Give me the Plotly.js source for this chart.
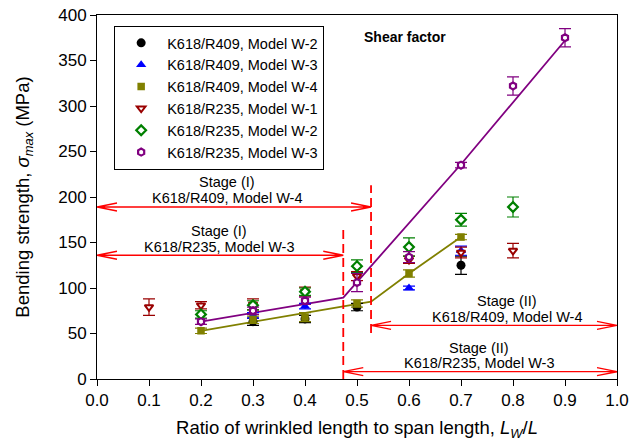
<!DOCTYPE html>
<html><head><meta charset="utf-8">
<script src="https://cdn.plot.ly/plotly-3.0.1.min.js"></script>
<style>html,body{margin:0;padding:0;background:#fff}#chart{width:643px;height:446px}</style>
</head><body><div id="chart"></div>
<script>
// ---- data ----
const seriesNames = ["K618/R409, Model W-2","K618/R409, Model W-3","K618/R409, Model W-4",
                     "K618/R235, Model W-1","K618/R235, Model W-2","K618/R235, Model W-3"];

const xR409W2 = [0.3, 0.4, 0.5, 0.7];
const yR409W2 = [63, 66, 79, 125];
const eR409W2 = [4, 4, 4, 10];

const xR409W3 = [0.3, 0.4, 0.6, 0.7];
const yR409W3 = [70, 80, 100, 141];
const eR409W3 = [3, 3, 2, 5];

const xR409W4 = [0.2, 0.3, 0.4, 0.5, 0.6, 0.7];
const yR409W4 = [53, 65, 68, 83, 116, 156];
const eR409W4 = [3, 4, 5, 4, 4, 3];

const xR235W1 = [0.1, 0.2, 0.3, 0.4, 0.5, 0.6, 0.7, 0.8];
const yR235W1 = [79, 81, 82, 96, 113, 131, 139, 141];
const eR235W1 = [9, 4, 6, 5, 5, 4, 6, 8];

const xR235W2 = [0.2, 0.3, 0.4, 0.5, 0.6, 0.7, 0.8];
const yR235W2 = [71, 81, 96, 124, 145, 175, 189];
const eR235W2 = [4, 5, 4, 7, 10, 7, 11];

const xR235W3 = [0.2, 0.3, 0.4, 0.5, 0.6, 0.7, 0.8, 0.9];
const yR235W3 = [63, 75, 86, 106, 134, 235, 322, 375];
const eR235W3 = [3, 4, 4, 10, 6, 3, 10, 10];

// fitted trend lines (vertices)
const fitR409X = [0.2, 0.527, 0.6, 0.7];
const fitR409Y = [53, 85, 116, 156];
const fitR235X = [0.2, 0.4736, 0.7, 0.9];
const fitR235Y = [63, 89.5, 236, 372];

// stage boundaries (dashed) and stage arrows
const dashX  = [0.4736, 0.527];
const dashY0 = [0, 50.5];
const dashY1 = [164, 213];

const arrowX0 = [0, 0, 0.527, 0.4736];
const arrowX1 = [0.527, 0.4736, 1.0, 1.0];
const arrowY  = [189, 136, 59, 8];

const labelLine1 = ["Stage (I)", "Stage (I)", "Stage (II)", "Stage (II)"];
const labelLine2 = ["K618/R409, Model W-4", "K618/R235, Model W-3", "K618/R409, Model W-4", "K618/R235, Model W-3"];
const labelX  = [0.25, 0.234, 0.789, 0.734];
const labelY1 = [216.5, 162.6, 85.3, 34.2];
const labelY2 = [199, 145, 68.2, 17.2];

const xTickVals = [0,0.1,0.2,0.3,0.4,0.5,0.6,0.7,0.8,0.9,1.0];
const yTickVals = [0,50,100,150,200,250,300,350,400];

// ---- styling ----
const FONT = "Liberation Sans, Arial, Helvetica, sans-serif";
const red = "#ff0000";
function errbar(arr, color){
  return {type:"data", array:arr, visible:true, color:color, thickness:1.2, width:6};
}
const traces = [
  {x:fitR409X, y:fitR409Y, mode:"lines", line:{color:"#808000", width:1.8}, showlegend:false, hoverinfo:"skip"},
  {x:fitR235X, y:fitR235Y, mode:"lines", line:{color:"#800080", width:1.8}, showlegend:false, hoverinfo:"skip"},
  {x:xR409W2, y:yR409W2, name:seriesNames[0], mode:"markers", error_y:errbar(eR409W2,"#000"),
   marker:{symbol:"circle", size:9, color:"#000"}},
  {x:xR409W3, y:yR409W3, name:seriesNames[1], mode:"markers", error_y:errbar(eR409W3,"#0000ff"),
   marker:{symbol:"triangle-up", size:9, color:"#0000ff"}},
  {x:xR409W4, y:yR409W4, name:seriesNames[2], mode:"markers", error_y:errbar(eR409W4,"#808000"),
   marker:{symbol:"square", size:7.5, color:"#808000"}},
  {x:xR235W1, y:yR235W1, name:seriesNames[3], mode:"markers", error_y:errbar(eR235W1,"#990000"),
   marker:{symbol:"triangle-down", size:7.5, color:"#fff", line:{color:"#990000", width:2}}},
  {x:xR235W2, y:yR235W2, name:seriesNames[4], mode:"markers", error_y:errbar(eR235W2,"#008000"),
   marker:{symbol:"diamond", size:7.5, color:"#fff", line:{color:"#008000", width:2.2}}},
  {x:xR235W3, y:yR235W3, name:seriesNames[5], mode:"markers", error_y:errbar(eR235W3,"#800080"),
   marker:{symbol:"hexagon", size:7, color:"#fff", line:{color:"#800080", width:2.2}}}
];

// arrowhead size in pixels converted to data units (plot area 520 x 364 px)
const pxX = 1.0/520, pxY = 400/364;
const headL = 20*pxX, headW = 4*pxY;
const shapes = [];
for (let i=0;i<dashX.length;i++){
  shapes.push({type:"line", xref:"x", yref:"y", x0:dashX[i], x1:dashX[i], y0:dashY0[i], y1:dashY1[i],
               line:{color:red, width:1.8, dash:"9px,5px"}});
}
for (let i=0;i<arrowY.length;i++){
  const a=arrowX0[i], b=arrowX1[i], y=arrowY[i];
  const p = `M${a},${y}L${b},${y}` +
            `M${a+headL},${y+headW}L${a},${y}L${a+headL},${y-headW}` +
            `M${b-headL},${y+headW}L${b},${y}L${b-headL},${y-headW}`;
  shapes.push({type:"path", xref:"x", yref:"y", path:p, line:{color:red, width:1.3}});
}

const annFont = {family:FONT, size:14.5, color:"#000"};
const annotations = [];
for (let i=0;i<labelX.length;i++){
  annotations.push({x:labelX[i], y:labelY1[i], xref:"x", yref:"y", text:labelLine1[i], showarrow:false, font:annFont});
  annotations.push({x:labelX[i], y:labelY2[i], xref:"x", yref:"y", text:labelLine2[i], showarrow:false, font:annFont});
}
annotations.push({x:0.592, y:376, xref:"x", yref:"y", text:"<b>Shear factor</b>", showarrow:false,
                  font:{family:FONT, size:14, color:"#000"}});

const layout = {
  width:643, height:446,
  margin:{l:97, r:26, t:15, b:67, pad:0},
  paper_bgcolor:"#fff", plot_bgcolor:"#fff",
  font:{family:FONT, color:"#000"},
  showlegend:true,
  legend:{x:0.033, y:0.97, xanchor:"left", yanchor:"top", bgcolor:"#fff",
          bordercolor:"#000", borderwidth:1, font:{family:FONT, size:14.5, color:"#000"},
          tracegroupgap:0, itemwidth:42},
  xaxis:{range:[0,1.0], tickvals:xTickVals, tickformat:".1f", ticks:"outside", ticklen:6,
         tickcolor:"#000", showline:true, linecolor:"#000", linewidth:1, mirror:true,
         showgrid:false, zeroline:false, tickfont:{family:FONT, size:17},
         title:{text:"Ratio of wrinkled length to span length, <i>L</i><sub><i>W</i></sub>/<i>L</i>",
                font:{family:FONT, size:18.5}, standoff:11}},
  yaxis:{range:[0,400], tickvals:yTickVals, ticks:"outside", ticklen:6,
         tickcolor:"#000", showline:true, linecolor:"#000", linewidth:1, mirror:true,
         showgrid:false, zeroline:false, tickfont:{family:FONT, size:17},
         title:{text:"Bending strength, <i>σ</i><sub><i>max</i></sub> (MPa)",
                font:{family:FONT, size:18.5}, standoff:23}},
  shapes:shapes, annotations:annotations
};
Plotly.newPlot("chart", traces, layout, {displayModeBar:false, staticPlot:true});
</script>
</body></html>
